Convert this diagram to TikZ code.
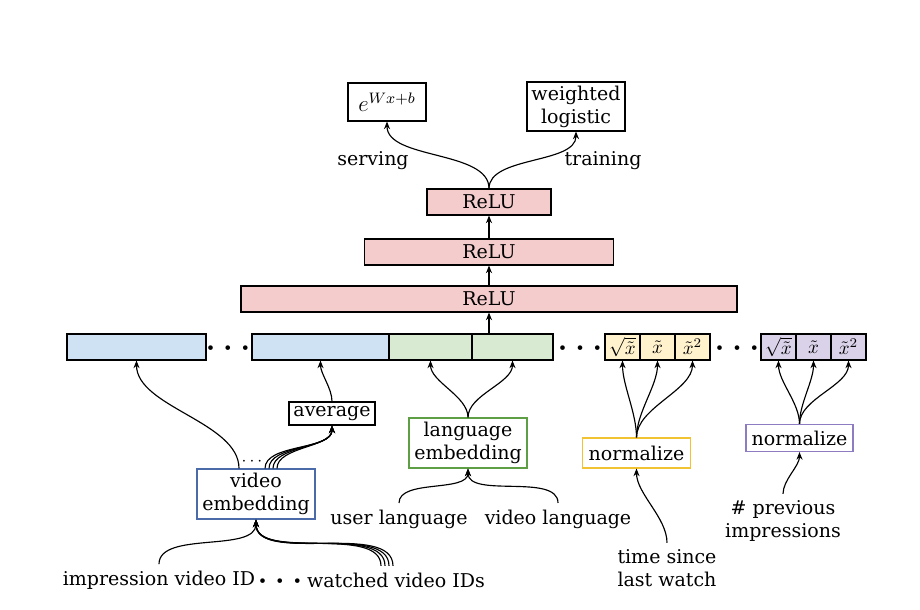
\documentclass[tikz,border=0pt]{standalone}
\usepackage{fontspec}
\setmainfont{DejaVu Serif}
\usepackage{tikz}
\usetikzlibrary{arrows.meta,positioning,calc}
\newcommand\pxu{0.0185cm}
\newcommand\rowdots{${\scriptscriptstyle\bullet}\hspace{5.5pt}{\scriptscriptstyle\bullet}\hspace{5.5pt}{\scriptscriptstyle\bullet}$}
\definecolor{relured}{HTML}{F4CCCC}
\definecolor{cellblue}{HTML}{CFE2F3}
\definecolor{cellgreen}{HTML}{D9EAD3}
\definecolor{cellyellow}{HTML}{FFF2CC}
\definecolor{cellpurple}{HTML}{D9D2E9}
\definecolor{lineblue}{HTML}{4A6AA8}
\definecolor{linegreen}{HTML}{5E9E45}
\definecolor{lineyellow}{HTML}{F1C232}
\definecolor{linepurple}{HTML}{8E7CC3}

\begin{document}
\begin{tikzpicture}[x=\pxu,y=-\pxu,
 sz/.style 2 args={minimum width=#1*\pxu,minimum height=#2*\pxu},
 box/.style={draw,semithick,inner sep=0pt,align=center},
 cell/.style={draw,semithick,inner sep=0pt,minimum height=26*\pxu},
 arr/.style={semithick,looseness=0.8,-{Stealth[length=4pt,width=3.2pt]}},
 dotrow/.style={inner sep=0pt},
 lbl/.style={inner sep=0pt}]
\useasboundingbox (0,0) rectangle (920,609);
% output layer
\node[box,sz={78}{38},font=\large] (expbox) at (387,102) {$e^{Wx+b}$};
\node[box,sz={98}{49}] (wlog) at (576,106.5) {weighted\\logistic};
\node (serving) at (373,161) {serving};
\node (training) at (603,161) {training};
% hidden layers
\node[cell,fill=relured,sz={124}{26}] (relu3) at (489,202) {ReLU};
\node[cell,fill=relured,sz={249}{26}] (relu2) at (489,252) {ReLU};
\node[cell,fill=relured,sz={496}{26}] (relu1) at (489,299) {ReLU};
% embedding row
\node[cell,fill=cellblue,minimum width=139*\pxu] (blue1) at (136.5,347) {};
\node[dotrow] (dots1) at (228,348) {\rowdots};
\node[cell,fill=cellblue,minimum width=137*\pxu] (blue2) at (320.5,347) {};
\node[cell,fill=cellgreen,minimum width=83*\pxu] (green1) at (430.5,347) {};
\node[cell,fill=cellgreen,minimum width=81*\pxu] (green2) at (512.5,347) {};
\node[dotrow] (dots2) at (580,348) {\rowdots};
\node[cell,fill=cellyellow,minimum width=35*\pxu] (yel1) at (622.5,347) {};
\node[cell,fill=cellyellow,minimum width=35*\pxu] (yel2) at (657.5,347) {};
\node[cell,fill=cellyellow,minimum width=35*\pxu] (yel3) at (692.5,347) {};
\node[dotrow] (dots3) at (737,348) {\rowdots};
\node[cell,fill=cellpurple,minimum width=35*\pxu] (pur1) at (778.5,347) {};
\node[cell,fill=cellpurple,minimum width=35*\pxu] (pur2) at (813.5,347) {};
\node[cell,fill=cellpurple,minimum width=35*\pxu] (pur3) at (848.5,347) {};
\foreach \c in {yel,pur}{
 \node[lbl] (\c sqrt) at (\c1) {$\sqrt{\tilde{x}}$};
 \node[lbl] (\c lin) at (\c2) {$\tilde{x}$};
 \node[lbl] (\c sq) at (\c3) {$\tilde{x}^2$};}
% feature boxes
\node[box,sz={86}{23}] (avg) at (332,413.5) {average};
\node[box,draw=lineblue,sz={118}{50}] (vemb) at (256,494) {video\\embedding};
\node[box,draw=linegreen,sz={118}{50}] (lemb) at (468,443) {language\\embedding};
\node[box,draw=lineyellow,sz={108}{30}] (ynorm) at (636.5,453) {normalize};
\node[box,draw=linepurple,sz={107}{27}] (pnorm) at (799.5,438) {normalize};
\node[inner sep=0pt,font=\small] (vdots) at (252,462) {$\cdots$};
% inputs
\node (imp) at (159,580) {impression video ID};
\node[dotrow] (dots4) at (280,581) {\rowdots};
\node (watched) at (396,580) {watched video IDs};
\node (ulang) at (399,519) {user language};
\node (vlang) at (558,519) {video language};
\node[align=center] (tsince) at (667,568) {time since\\last watch};
\node[align=center] (prev) at (783,521) {\# previous\\impressions};
% connectors
\draw[arr] (relu3.north) to[out=90,in=-90] (expbox.south);
\draw[arr] (relu3.north) to[out=90,in=-90] (wlog.south);
\draw[arr] (relu2) -- (relu3);
\draw[arr] (relu1) -- (relu2);
\draw[arr] (green2.north -| relu1.south) -- (relu1);
\coordinate (vleft) at ($(vemb.north)+(-17,0)$);
\draw[arr] (vleft) to[out=90,in=-90] (blue1.south);
\foreach \k in {0,1,2,3}{
 \coordinate (vr\k) at ($(vemb.north)+(9+4*\k,0)$);
 \draw[arr] (vr\k) to[out=90,in=-90] (avg.south);}
\draw[arr] (avg.north) to[out=90,in=-90] (blue2.south);
\draw[arr] (lemb.north) to[out=90,in=-90] (green1.south);
\draw[arr] (lemb.north) to[out=90,in=-90] (green2.south);
\foreach \c in {yel1,yel2,yel3}
 \draw[arr] (ynorm.north) to[out=90,in=-90] (\c.south);
\foreach \c in {pur1,pur2,pur3}
 \draw[arr] (pnorm.north) to[out=90,in=-90] (\c.south);
\draw[arr] (imp.north) to[out=90,in=-90] (vemb.south);
\foreach \k in {0,1,2,3}{
 \coordinate (wv\k) at ($(watched.north)+(-15+4*\k,0)$);
 \draw[arr] (wv\k) to[out=90,in=-90] (vemb.south);}
\draw[arr] (ulang.north) to[out=90,in=-90] (lemb.south);
\draw[arr] (vlang.north) to[out=90,in=-90] (lemb.south);
\draw[arr] (tsince.north) to[out=90,in=-90] (ynorm.south);
\draw[arr] (prev.north) to[out=90,in=-90] (pnorm.south);
\end{tikzpicture}
\end{document}
